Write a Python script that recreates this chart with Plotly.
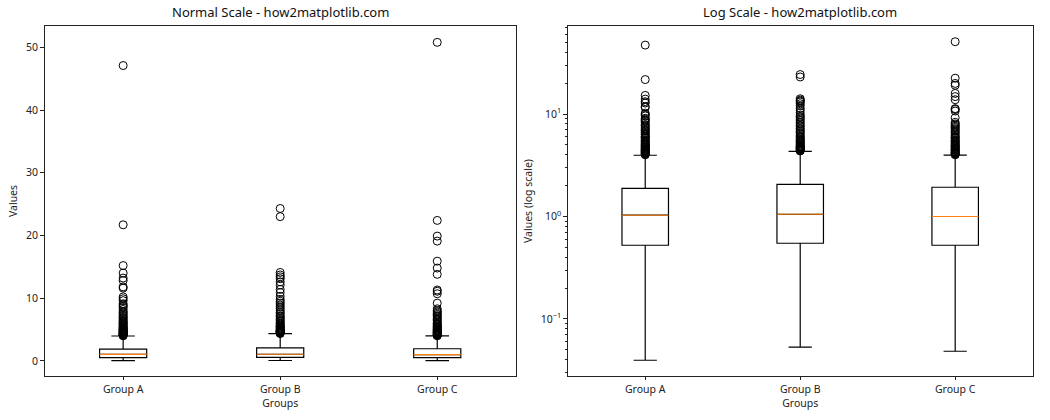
import plotly.graph_objects as go

groups = ["Group A", "Group B", "Group C"]
q1 = [0.524, 0.548, 0.524]
median = [1.03, 1.05, 1.00]
q3 = [1.88, 2.06, 1.93]
lower_whisker = [0.0395, 0.053, 0.0484]
upper_whisker = [3.96, 4.33, 3.97]

outliers_a = [47.1, 21.7, 15.2, 14.0, 13.2, 12.8, 11.8, 11.6, 10.2, 9.9, 9.6, 9.1, 8.9, 8.7,
              8.5, 8.2, 7.9, 7.7, 7.5, 7.3, 7.1, 6.9, 6.8, 6.6, 6.4, 6.3, 6.1, 6.0, 5.9, 5.8,
              5.6, 5.5, 5.4, 5.3, 5.2, 5.1, 5.0, 4.95, 4.9, 4.8, 4.75, 4.7, 4.6, 4.55, 4.5,
              4.45, 4.4, 4.35, 4.3, 4.25, 4.2, 4.15, 4.1, 4.05, 4.0]
outliers_b = [24.3, 23.0, 14.1, 13.7, 13.4, 13.1, 12.6, 12.1, 11.4, 10.9, 10.3, 9.8, 9.5, 9.2,
              8.9, 8.6, 8.3, 8.0, 7.7, 7.5, 7.2, 7.0, 6.8, 6.6, 6.4, 6.2, 6.0, 5.9, 5.7, 5.6,
              5.5, 5.4, 5.3, 5.2, 5.1, 5.0, 4.9, 4.85, 4.8, 4.75, 4.7, 4.65, 4.6, 4.55, 4.5,
              4.45, 4.4, 4.36]
outliers_c = [50.8, 22.4, 19.9, 19.1, 15.9, 14.8, 13.8, 11.3, 11.1, 10.7, 9.2, 8.3, 8.0, 7.8,
              7.6, 7.4, 7.2, 7.0, 6.8, 6.6, 6.4, 6.2, 6.0, 5.9, 5.8, 5.6, 5.5, 5.4, 5.3, 5.2,
              5.1, 5.0, 4.9, 4.85, 4.8, 4.7, 4.6, 4.55, 4.5, 4.45, 4.4, 4.3, 4.25, 4.2, 4.15,
              4.1, 4.05, 4.0]
outliers = [outliers_a, outliers_b, outliers_c]

FONT = "Noto Sans"
positions = [i + 1 for i in range(len(groups))]
box_w = 0.3

fig = go.Figure()

for k, (xa, ya) in enumerate([("x", "y"), ("x2", "y2")]):
    fig.add_trace(go.Box(
        x=positions, q1=q1, median=median, q3=q3,
        lowerfence=lower_whisker, upperfence=upper_whisker,
        width=box_w, whiskerwidth=0.5, boxpoints=False,
        fillcolor="rgba(0,0,0,0)", line=dict(color="black", width=1.2),
        xaxis=xa, yaxis=ya, showlegend=False, hoverinfo="skip"))
    mx, my = [], []
    for p, m in zip(positions, median):
        mx += [p - box_w / 2, p + box_w / 2, None]
        my += [m, m, None]
    fig.add_trace(go.Scatter(x=mx, y=my, mode="lines",
                             line=dict(color="#ff7f0e", width=1.1),
                             xaxis=xa, yaxis=ya, showlegend=False, hoverinfo="skip"))
    ox, oy = [], []
    for p, vals in zip(positions, outliers):
        ox += [p] * len(vals)
        oy += vals
    fig.add_trace(go.Scatter(x=ox, y=oy, mode="markers",
                             marker=dict(symbol="circle-open", size=8, color="black",
                                         line=dict(width=1, color="black")),
                             xaxis=xa, yaxis=ya, showlegend=False, hoverinfo="skip"))

axis_common = dict(showline=True, linecolor="#222222", linewidth=1, mirror=True,
                   ticks="outside", ticklen=3.5, tickcolor="#222222", showgrid=False,
                   zeroline=False, tickfont=dict(family=FONT, size=10.5, color="#222222"))

xcommon = dict(axis_common, range=[0.5, 3.5], tickvals=positions, ticktext=groups,
               title=dict(text="Groups", font=dict(family=FONT, size=10.5, color="#222222"),
                          standoff=3))

minor_vals = [0.03, 0.04, 0.05, 0.06, 0.07, 0.08, 0.09, 0.2, 0.3, 0.4, 0.5, 0.6, 0.7,
              0.8, 0.9, 2, 3, 4, 5, 6, 7, 8, 9, 20, 30, 40, 50, 60, 70]

fig.update_layout(
    width=1050, height=420,
    margin=dict(l=0, r=0, t=0, b=0),
    paper_bgcolor="white", plot_bgcolor="white",
    font=dict(family=FONT, color="#222222"),
    xaxis=dict(xcommon, domain=[0.0425, 0.4912], anchor="y"),
    xaxis2=dict(xcommon, domain=[0.5407, 0.9835], anchor="y2"),
    yaxis=dict(axis_common, domain=[0.105, 0.938], anchor="x", range=[-2.4, 53.4],
               tickvals=[0, 10, 20, 30, 40, 50],
               title=dict(text="Values", font=dict(family=FONT, size=10.5, color="#222222"),
                          standoff=6)),
    yaxis2=dict(axis_common, domain=[0.105, 0.938], anchor="x2", type="log",
                range=[-1.556, 1.859], tickvals=[0.1, 1, 10],
                ticktext=["10<sup>−1</sup>", "10<sup>0</sup>", "10<sup>1</sup>"],
                minor=dict(ticks="outside", ticklen=2, tickcolor="#222222", tickvals=minor_vals),
                title=dict(text="Values (log scale)",
                           font=dict(family=FONT, size=10.5, color="#222222"), standoff=6)),
    annotations=[
        dict(text="Normal Scale - how2matplotlib.com", xref="paper", yref="paper",
             x=(0.0425 + 0.4912) / 2, y=0.945, xanchor="center", yanchor="bottom",
             showarrow=False, font=dict(family=FONT, size=13, color="#111111")),
        dict(text="Log Scale - how2matplotlib.com", xref="paper", yref="paper",
             x=(0.5407 + 0.9835) / 2, y=0.945, xanchor="center", yanchor="bottom",
             showarrow=False, font=dict(family=FONT, size=13, color="#111111")),
    ],
)

fig.write_html("out.html")
